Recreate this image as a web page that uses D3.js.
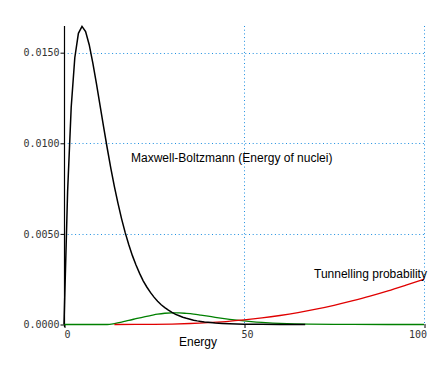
<!DOCTYPE html>
<html><head><meta charset="utf-8">
<script src="https://cdn.jsdelivr.net/npm/d3@7"></script>
<style>html,body{margin:0;padding:0;background:#fff;}svg{display:block;}</style>
</head><body>
<script>
// Maxwell-Boltzmann curve (black)
const mbEnergy = [0,1,2,3,4,5,6,7,8,9,10,11,12,13,14,15,16,17,18,19,20,21,22,23,24,25,26,27,28,29,30,31,32,33,34,35,36,37,38,39,40,42,44,46,48,50,55,60,67];
const mbValue  = [0,0.00732,0.01199,0.01472,0.01607,0.01645,0.01616,0.01544,0.01444,0.01330,0.01210,0.01090,0.00974,0.00863,0.00761,0.00668,0.00583,0.00507,0.00440,0.00380,0.00328,0.00282,0.00241,0.00207,0.00177,0.00151,0.00128,0.00109,0.00093,0.00079,0.00067,0.00056,0.00048,0.00040,0.00034,0.00029,0.00024,0.00020,0.00017,0.00014,0.00012,0.000085,0.000059,0.000041,0.000028,0.00002,0.000008,0.000003,0.000001];
// Tunnelling probability (red)
const tunEnergy = [14,20,25,30,35,40,45,50,55,60,65,70,75,80,85,90,95,100];
const tunValue  = [0,0.000003,0.00001,0.000025,0.000054,0.000099,0.000163,0.00025,0.00036,0.000496,0.000657,0.000845,0.00106,0.0013,0.00156,0.00185,0.00217,0.0025];
// Product (green)
const prodEnergy = [0,12,14,16,18,20,22,24,26,28,30,32,34,36,38,40,42,44,46,48,50,52,55,58,60,64,68,75,80,90,100];
const prodValue  = [0,0,0.00005,0.00013,0.00023,0.00032,0.00041,0.00049,0.00057,0.00062,0.00064,0.00064,0.00061,0.00057,0.000515,0.000457,0.000397,0.00034,0.000286,0.000238,0.000196,0.000159,0.000114,0.00008,0.000063,0.000038,0.000022,0.000008,0.000004,0,0];

const xTicks = [0,50,100];
const yTicks = [0,0.005,0.010,0.015];
const yTickLabels = ["0.0000","0.0050","0.0100","0.0150"];
const labelMB = "Maxwell-Boltzmann (Energy of nuclei)";
const labelTun = "Tunnelling probability";
const xTitle = "Energy";

const W = 443, H = 371;
const svg = d3.select("body").append("svg").attr("width", W).attr("height", H);

const x = d3.scaleLinear().domain([0,100]).range([64,424]);
const y = d3.scaleLinear().domain([0,0.0165]).range([324.5,25.5]);

const grid = svg.append("g").attr("stroke","#1c8ee0").attr("stroke-width",1).attr("stroke-dasharray","1,2.7");
grid.selectAll("line.h").data(yTicks.filter(d=>d>0)).enter().append("line")
  .attr("x1",64).attr("x2",424).attr("y1",d=>Math.round(y(d))+0.5).attr("y2",d=>Math.round(y(d))+0.5);
grid.selectAll("line.v").data(xTicks.filter(d=>d>0)).enter().append("line")
  .attr("y1",26).attr("y2",324).attr("x1",d=>Math.round(x(d))+0.5).attr("x2",d=>Math.round(x(d))+0.5);

// y axis
const yAxis = d3.axisLeft(y).tickValues(yTicks).tickSize(4).tickFormat((d,i)=>yTickLabels[i]);
const gy = svg.append("g").attr("transform","translate(64.5,0)").call(yAxis);
gy.select(".domain").remove();
gy.append("line").attr("x1",0).attr("x2",0).attr("y1",26).attr("y2",327).attr("stroke","#000").attr("stroke-width",1.2);
gy.selectAll(".tick line").attr("stroke","#000");
gy.selectAll(".tick text").attr("font-family","DejaVu Sans Mono").attr("font-size",10).attr("fill","#333").attr("x",-5);

// x axis
const xAxis = d3.axisBottom(x).tickValues(xTicks).tickSize(4).tickFormat(d3.format("d"));
const gx = svg.append("g").attr("transform","translate(0.5,324)").call(xAxis);
gx.select(".domain").remove();
gx.selectAll(".tick line").attr("stroke","#000");
gx.selectAll(".tick text").attr("font-family","DejaVu Sans Mono").attr("font-size",10).attr("fill","#333")
  .attr("dy",null).attr("y",14)
  .attr("text-anchor",d=> d===0?"start":(d===100?"end":"middle"))
  .attr("dx",d=> d===0?-0.5:(d===100?2:2.5));

const line = d3.line().x(d=>x(d[0])).y(d=>y(d[1]));
const prodPts = prodEnergy.map((e,i)=>[e,prodValue[i]]);
const tunPts = tunEnergy.map((e,i)=>[e,tunValue[i]]);
const mbPts = mbEnergy.map((e,i)=>[e,mbValue[i]]);

svg.append("path").datum(prodPts).attr("d",line.curve(d3.curveMonotoneX)).attr("fill","none").attr("stroke","#008000").attr("stroke-width",1.3);
svg.append("path").datum(tunPts).attr("d",line.curve(d3.curveMonotoneX)).attr("fill","none").attr("stroke","#e00000").attr("stroke-width",1.3);
svg.append("path").datum(mbPts).attr("d",line.curve(d3.curveLinear)).attr("fill","none").attr("stroke","#000").attr("stroke-width",1.5);

svg.append("text").attr("x",131).attr("y",161.5).attr("font-family","Liberation Sans").attr("font-size",12).attr("fill","#000").text(labelMB);
svg.append("text").attr("x",314).attr("y",278.3).attr("font-family","Liberation Sans").attr("font-size",12).attr("fill","#000").text(labelTun);
svg.append("text").attr("x",179).attr("y",346).attr("font-family","Liberation Sans").attr("font-size",12).attr("fill","#000").text(xTitle);
</script>
</body></html>
